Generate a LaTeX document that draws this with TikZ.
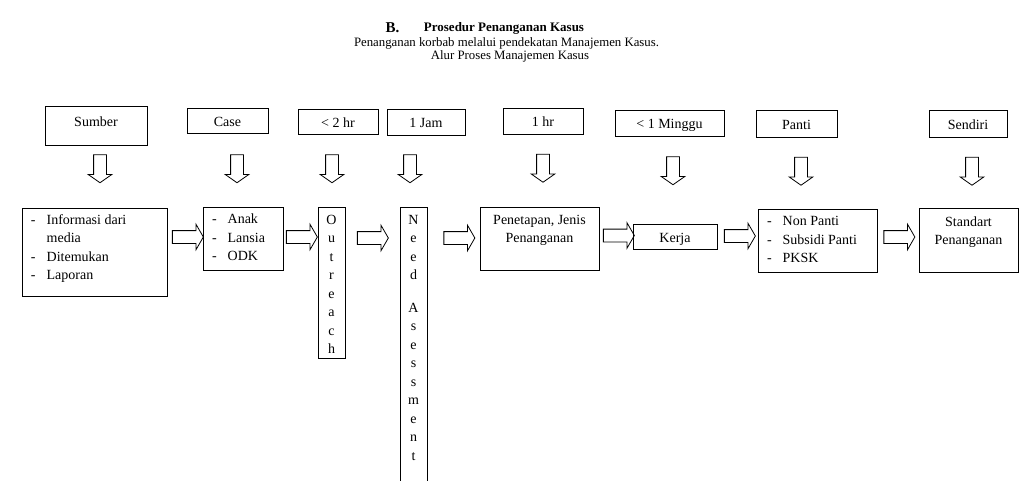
\documentclass[tikz,border=0pt]{standalone}
\usepackage{fontspec}
\setmainfont{Liberation Serif}
\usepackage{tikz}
\usetikzlibrary{shapes.arrows, positioning, calc}
\newcommand{\isikotak}[4][c]{\parbox[c][#3][#1]{#2}{#4}}

\begin{document}
\begin{tikzpicture}[
    x=1pt, y=-1pt,
    kotak/.style={rectangle, draw, line width=0.9pt, inner sep=0pt, align=center, font=\fontsize{14}{18.5}\selectfont},
    atas/.style={kotak, font=\fontsize{14}{15}\selectfont, text height=11.5pt, text depth=0pt},
    harrow/.style={single arrow, draw, line width=0.8pt, inner sep=6pt, minimum width=0pt, minimum height=31pt, single arrow head extend=6.5pt, single arrow tip angle=120},
    varrow/.style={harrow, shape border rotate=270, minimum height=28pt, single arrow head extend=5.5pt, single arrow tip angle=110},
    judul/.style={inner sep=0pt, font=\fontsize{12.8}{13.5}\selectfont}
]
\useasboundingbox (0,0) rectangle (1019,481);

% judul
\node[judul, font=\fontsize{15}{16}\selectfont\bfseries] (huruf) at (392.5,28) {B.};
\node[judul, font=\fontsize{13}{14}\selectfont\bfseries] (judul) at (504,28) {Prosedur Penanganan Kasus};
\node[judul] (sub1) at (506.5,43) {Penanganan korbab melalui pendekatan Manajemen Kasus.};
\node[judul] (sub2) at (510,56) {Alur Proses Manajemen Kasus};

% kotak atas
\node[atas, minimum width=102pt, minimum height=39pt, text height=9.5pt, text depth=7pt] (sumber) at (96,125.5) {Sumber};
\node[atas, minimum width=81pt, minimum height=25pt] (case) at (227.5,120.5) {Case};
\node[atas, minimum width=80pt, minimum height=25pt] (duajam) at (338,121.5) {< 2 hr};
\node[atas, minimum width=78pt, minimum height=26pt] (satujam) at (426,122) {1 Jam};
\node[atas, minimum width=80pt, minimum height=26pt] (satuhr) at (543,121) {1 hr};
\node[atas, minimum width=109pt, minimum height=26pt] (minggu) at (669.5,123) {< 1 Minggu};
\node[atas, minimum width=81pt, minimum height=27pt] (panti) at (796.5,123.5) {Panti};
\node[atas, minimum width=78pt, minimum height=27pt] (sendiri) at (968,123.5) {Sendiri};

% panah turun
\node[varrow] (turun1) at (100,166.5) {};
\node[varrow] (turun2) at (237,166.5) {};
\node[varrow] (turun3) at (332,166.5) {};
\node[varrow] (turun4) at (410,166.5) {};
\node[varrow] (turun5) at (543,166) {};
\node[varrow] (turun6) at (673,168.5) {};
\node[varrow] (turun7) at (801,169) {};
\node[varrow] (turun8) at (972,169) {};

% kotak bawah
\node[kotak] (info) at (94.5,252) {\isikotak[t]{145pt}{88pt}{\vspace*{3.5pt}\begin{tabular}{@{\hspace{9pt}}l@{\hspace{11pt}}l@{}}
-&Informasi dari\\ &media\\ -&Ditemukan\\ -&Laporan\end{tabular}}};
\node[kotak] (jenis) at (243,238.5) {\isikotak{80pt}{63pt}{\begin{tabular}{@{\hspace{9pt}}l@{\hspace{11pt}}l@{}}
-&Anak\\ -&Lansia\\ -&ODK\end{tabular}}};
\node[kotak] (outreach) at (331.5,282.5) {\isikotak[t]{27pt}{151pt}{\vspace*{4.5pt}\centering\strut O\\u\\t\\r\\e\\a\\c\\h}};
\node[kotak] (need) at (413.5,348.5) {\isikotak[t]{27pt}{283pt}{\vspace*{4.5pt}\centering\strut N\\e\\e\\d\\[14pt]A\\s\\e\\s\\s\\m\\e\\n\\t}};
\node[kotak] (penetapan) at (539.5,238.5) {\isikotak[t]{119pt}{63pt}{\vspace*{4.5pt}\centering\strut Penetapan, Jenis\\Penanganan}};
\node[kotak, minimum width=84pt, minimum height=25pt, text height=11.5pt, text depth=0pt] (kerja) at (675,236.5) {Kerja};
\node[kotak] (pilihan) at (817.5,240.5) {\isikotak{119pt}{63pt}{\begin{tabular}{@{\hspace{9pt}}l@{\hspace{11pt}}l@{}}
-&Non Panti\\ -&Subsidi Panti\\ -&PKSK\end{tabular}}};
\node[kotak] (standart) at (968.5,240) {\isikotak[t]{99pt}{64pt}{\vspace*{5.5pt}\centering\strut Standart\\Penanganan}};

% panah lanjut
\node[harrow] (lanjut1) at (186,237) {};
\node[harrow] (lanjut2) at (300,237) {};
\node[harrow] (lanjut3) at (371,238) {};
\node[harrow] (lanjut4) at (457.5,238) {};
\node[harrow] (lanjut5) at (617,235.5) {};
\node[harrow] (lanjut6) at (738,236) {};
\node[harrow] (lanjut7) at (897.5,237) {};

\end{tikzpicture}
\end{document}
